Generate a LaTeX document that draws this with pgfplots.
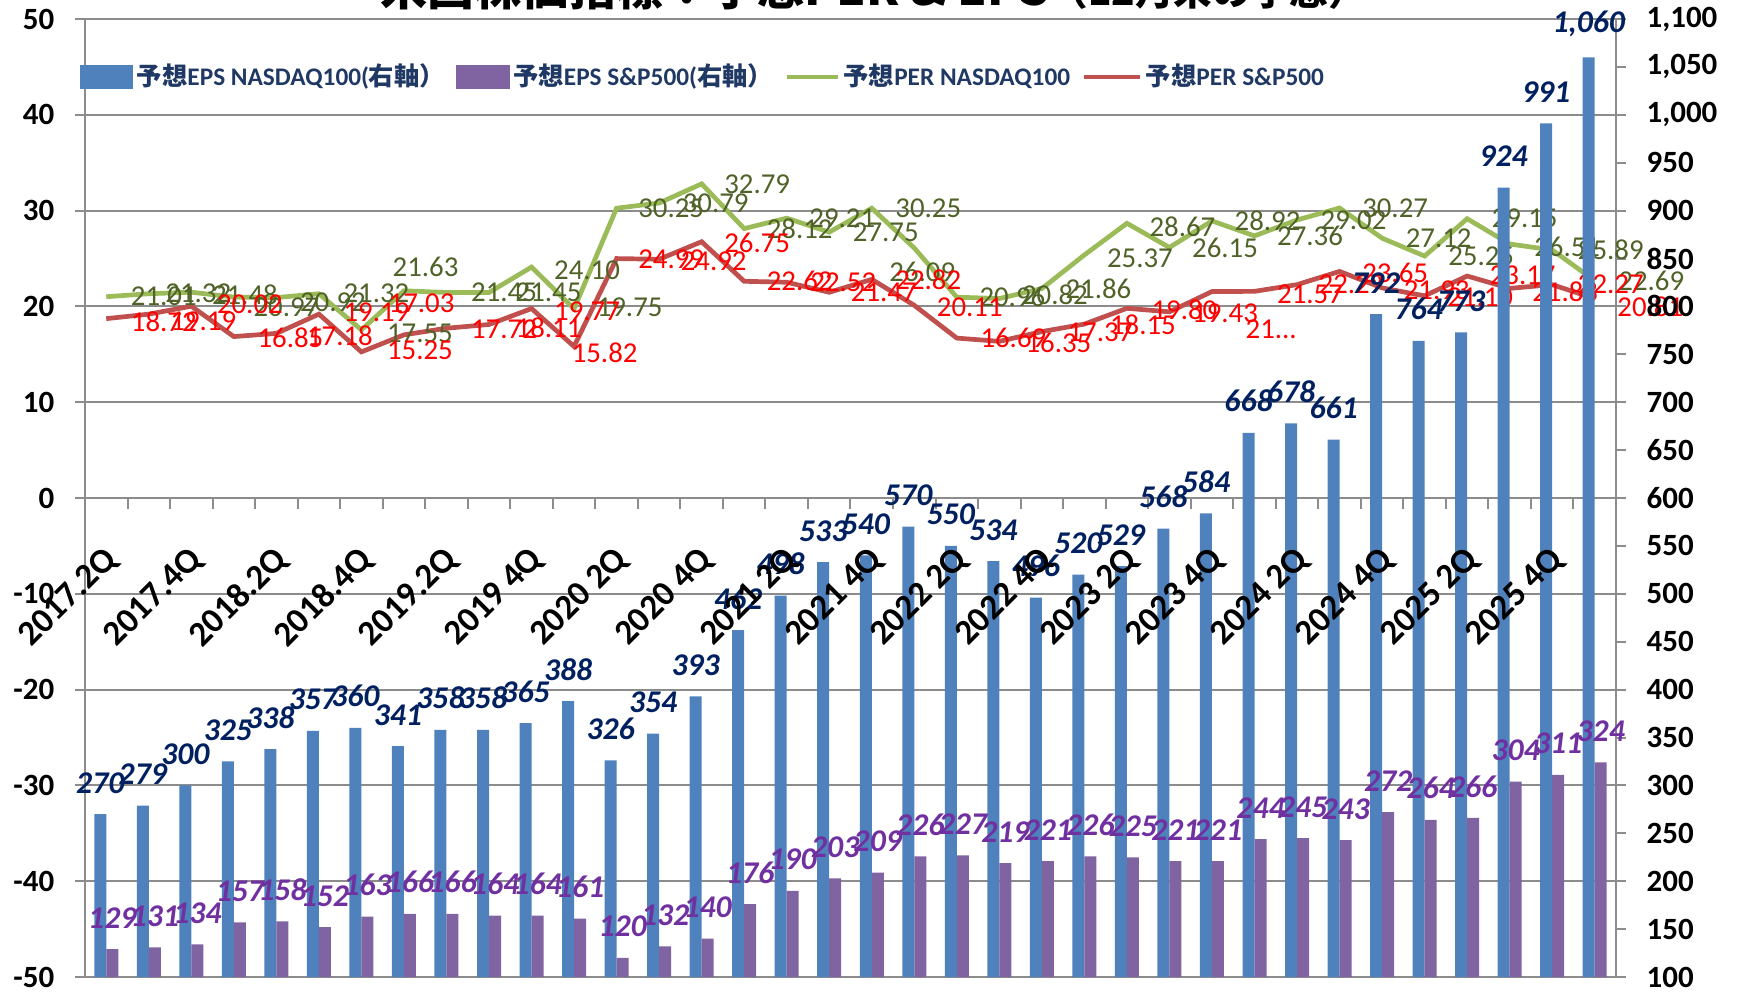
\documentclass[border=0pt]{standalone}
\usepackage{fontspec}
\setmainfont{Carlito}
\newfontfamily\jp{Noto Sans CJK JP}
\usepackage{pgfplots}
\usepackage{pgfplotstable}
\pgfplotsset{compat=1.18}

\definecolor{barblue}{HTML}{4F81BD}
\definecolor{barpurple}{HTML}{8064A2}
\definecolor{pergreen}{HTML}{9BBB59}
\definecolor{perred}{HTML}{C0504D}
\definecolor{lblnavy}{HTML}{002060}
\definecolor{lblpurple}{HTML}{7030A0}
\definecolor{lblgreen}{HTML}{4F6228}
\definecolor{lblred}{HTML}{FF0000}
\definecolor{legnavy}{HTML}{1F3864}
\definecolor{gridgray}{HTML}{8C8C8C}

\pgfplotsset{
  layers/chartlayers/.define layer set={
    axis background,axis grid,axis ticks,axis lines,main,axis tick labels,axis descriptions,axis foreground
  }{/pgfplots/layers/standard},
  perlabels/.style={
    draw=none, mark=none, forget plot, on layer=axis foreground,
    point meta=explicit symbolic,
    visualization depends on=\thisrow{dx}\as\pdx,
    visualization depends on=\thisrow{dy}\as\pdy,
    nodes near coords,
    every node near coord/.append style={anchor=west, inner sep=0pt,
      xshift=\pdx mm, yshift=\pdy mm, text=#1, font=\fontsize{8.2}{9}\selectfont},
  },
}

% EPS (right axis)
\pgfplotstableread{
x nas sp
1 270 129
2 279 131
3 300 134
4 325 157
5 338 158
6 357 152
7 360 163
8 341 166
9 358 166
10 358 164
11 365 164
12 388 161
13 326 120
14 354 132
15 393 140
16 462 176
17 498 190
18 533 203
19 540 209
20 570 226
21 550 227
22 534 219
23 496 221
24 520 226
25 529 225
26 568 221
27 584 221
28 668 244
29 678 245
30 661 243
31 792 272
32 764 264
33 773 266
34 924 304
35 991 311
36 1060 324
}\epsdata

% PER NASDAQ100, label text and label offset (mm)
\pgfplotstableread{
x per lab dx dy
1 21.01 21.01 2.4 0
2 21.32 21.32 1.6 0
3 21.48 21.48 2.0 -0.25
4 20.97 20.97 1.9 -1.0
5 20.92 20.92 2.3 -0.5
6 21.32 21.32 2.4 0
7 17.55 17.55 2.5 -0.3
8 21.63 21.63 -1.2 2.4
9 21.45 21.45 2.4 0
10 21.45 21.45 2.6 0
11 24.10 24.10 2.2 -0.3
12 19.75 19.75 2.2 0.2
13 30.25 30.25 2.1 0
14 30.79 30.79 2.3 0
15 32.79 32.79 2.2 0
16 28.12 28.12 2.2 0
17 29.21 29.21 2.2 0
18 27.75 27.75 2.3 0
19 30.25 30.25 2.3 0
20 26.09 26.09 -2.55 -2.36
21 20.96 20.96 2.2 0
22 20.82 20.82 2.2 0.4
23 21.86 21.86 2.3 0
24 25.37 25.37 2.2 -0.3
25 28.67 28.67 2.2 -0.3
26 26.15 26.15 2.2 0
27 28.92 28.92 2.2 0
28 27.36 27.36 2.2 0
29 29.02 29.02 2.3 0
30 30.27 30.27 2.2 0
31 27.12 27.12 2.3 0
32 25.25 25.25 2.3 0
33 29.15 29.15 2.4 0
34 26.51 26.51 2.4 -0.3
35 25.89 25.89 2.5 0
36 22.69 22.69 2.3 0
}\nasper

% PER S&P500
\pgfplotstableread{
x per lab dx dy
1 18.72 18.72 2.4 -0.3
2 19.19 19.19 2.1 -0.75
3 20.02 20.02 2.5 0.15
4 16.85 16.85 2.3 -0.1
5 17.18 17.18 3.0 -0.2
6 19.19 19.19 2.4 0.15
7 15.25 15.25 2.5 0.2
8 17.03 17.03 -1.6 3.2
9 17.72 17.72 2.4 -0.15
10 18.11 18.11 2.6 -0.3
11 19.77 19.77 2.2 -0.3
12 15.82 15.82 -0.3 -0.63
13 24.99 24.99 2.1 -0.1
14 24.92 24.92 2.1 -0.2
15 26.75 26.75 2.2 -0.1
16 22.62 22.62 2.2 0
17 22.52 22.52 2.3 0
18 21.47 21.47 2.1 0
19 22.82 22.82 2.3 0
20 20.11 20.11 2.2 -0.15
21 16.69 16.69 2.3 0
22 16.35 16.35 2.55 -0.13
23 17.37 17.37 2.5 -0.1
24 18.15 18.15 2.5 -0.1
25 19.80 19.80 2.4 -0.15
26 19.43 19.43 2.2 -0.1
27 21.55 21... 3.3 -3.8
28 21.57 21.57 2.2 -0.3
29 22.27 22.27 2.1 0
30 23.65 23.65 2.2 -0.1
31 21.93 21.93 2.1 -0.2
32 21.10 21.10 2.2 -0.1
33 23.17 23.17 2.2 0.1
34 21.88 21.88 2.2 -0.3
35 22.27 22.27 2.5 0
36 20.81 20.81 2.2 -0.8
}\spper

\begin{document}
\begin{tikzpicture}
\begin{axis}[
  set layers=chartlayers,
  scale only axis, width=153.1mm, height=95.8mm,
  at={(0,0)}, anchor=south west,
  xmin=0.5, xmax=36.5, ymin=-50, ymax=50,
  axis x line*=middle, axis y line*=left,
  axis line style={draw=gridgray, line width=0.2mm},
  ymajorgrids, grid style={draw=gridgray, line width=0.2mm},
  tick style={draw=gridgray, line width=0.2mm},
  tick align=outside, major tick length=1mm, minor tick length=1.1mm,
  ytick={-50,-40,...,50},
  yticklabels={-50,-40,-30,-20,-10,0,10,20,30,40,50},
  yticklabel style={font=\bfseries\fontsize{8.8}{10}\selectfont, inner sep=0pt, xshift=-2mm},
  xtick={1,3,...,35},
  xticklabels={2017.2Q,2017.4Q,2018.2Q,2018.4Q,2019.2Q,2019 4Q,2020 2Q,2020 4Q,2021 2Q,2021 4Q,2022 2Q,2022 4Q,2023 2Q,2023 4Q,2024 2Q,2024 4Q,2025 2Q,2025 4Q},
  major x tick style={draw=none},
  minor xtick={1.5,2.5,...,35.5},
  xticklabel style={font=\bfseries\fontsize{10}{12}\selectfont, inner sep=0pt, xshift=0.6mm, yshift=-4.6mm, rotate=45, anchor=east},
  clip=false,
  legend columns=4,
  legend cell align=left,
  legend style={at={(-0.0033,0.9395)}, anchor=west, draw=none, fill=none,
    inner sep=0pt, outer sep=0pt,
    font=\bfseries\fontsize{7.2}{8.5}\selectfont, text=legnavy,
    nodes={inner sep=0pt, text=legnavy},
    /tikz/every odd column/.append style={column sep=0.35mm},
    /tikz/every even column/.append style={column sep=1.15mm}},
]
\addlegendimage{legend image code/.code={\fill[barblue] (0mm,-1.13mm) rectangle (5.2mm,1.13mm);}}
\addlegendentry{{\jp 予想}EPS NASDAQ100({\jp 右軸）}}
\addlegendimage{legend image code/.code={\fill[barpurple] (0mm,-1.13mm) rectangle (5.2mm,1.13mm);}}
\addlegendentry{{\jp 予想}EPS S\&P500({\jp 右軸）}}
\addplot[pergreen, line width=0.47mm, mark=none,
  legend image code/.code={\draw[pergreen, line width=0.47mm] (0mm,0mm) -- (5.1mm,0mm);}]
  table[x=x, y=per]{\nasper};
\addlegendentry{{\jp 予想}PER NASDAQ100}
\addplot[perred, line width=0.47mm, mark=none,
  legend image code/.code={\draw[perred, line width=0.47mm] (0mm,0mm) -- (5.6mm,0mm);}]
  table[x=x, y=per]{\spper};
\addlegendentry{{\jp 予想}PER S\&P500}

\addplot[perlabels=lblgreen] table[x=x, y=per, meta=lab]{\nasper};
\addplot[perlabels=lblred] table[x=x, y=per, meta=lab]{\spper};
\end{axis}

\begin{axis}[
  set layers=chartlayers,
  scale only axis, width=153.1mm, height=95.8mm,
  at={(0,0)}, anchor=south west,
  xmin=0.5, xmax=36.5, ymin=100, ymax=1100,
  axis x line=none, axis y line*=right,
  axis line style={draw=gridgray, line width=0.2mm},
  tick style={draw=gridgray, line width=0.2mm},
  tick align=outside, major tick length=1mm,
  ytick={100,150,...,1100},
  yticklabels={100,150,200,250,300,350,400,450,500,550,600,650,700,750,800,850,900,950,{1,000},{1,050},{1,100}},
  yticklabel style={font=\bfseries\fontsize{8.8}{10}\selectfont, inner sep=0pt, xshift=2mm},
  ybar=0pt, bar width=1.2mm,
  clip mode=individual,
  nodes near coords,
  every node near coord/.append style={font=\bfseries\itshape\fontsize{9}{10}\selectfont,
    inner sep=0pt, yshift=2mm},
  /pgf/number format/1000 sep={,},
  /pgf/number format/assume math mode=true,
]
\addplot[fill=barblue, draw=none, every node near coord/.append style={text=lblnavy}]
  table[x=x, y=nas]{\epsdata};
\addplot[fill=barpurple, draw=none, every node near coord/.append style={text=lblpurple}]
  table[x=x, y=sp]{\epsdata};
\end{axis}

\pgfresetboundingbox
\useasboundingbox (-8.5mm,-1.5mm) rectangle (165.2mm,97.7mm);
\node[anchor=base west, inner sep=0pt] at (29.5mm,97.1mm)
  {\jp\bfseries\fontsize{13.4}{15}\selectfont 米国株価指標：予想PER \& EPS{\fontsize{11}{12}\selectfont （12月末の予想）}};
\end{tikzpicture}
\end{document}
